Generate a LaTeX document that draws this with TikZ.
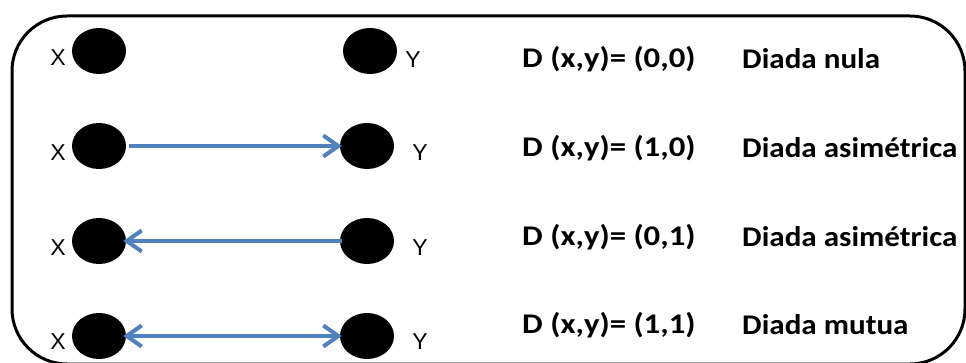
\documentclass[tikz,border=0pt]{standalone}
\usepackage{fontspec}
\setmainfont{Carlito}
\newfontfamily\labfont{Liberation Sans}
\usetikzlibrary{arrows.meta,shapes.geometric}
\definecolor{arrowblue}{HTML}{4F81BD}
\tikzset{
  dot/.style={ellipse, fill=black, minimum width=54pt, minimum height=46pt, inner sep=0pt},
  lab/.style={font=\labfont\fontsize{23}{23}\selectfont, inner sep=0pt},
  formula/.style={font=\bfseries\fontsize{28.5}{28.5}\selectfont, xscale=1.15, anchor=west, inner sep=0pt},
  kind/.style={font=\bfseries\fontsize{28.5}{28.5}\selectfont, xscale=1.09, anchor=west, inner sep=0pt},
  barb/.tip={Straight Barb[length=15pt,width=21pt,line width=4pt]},
  rel/.style={draw=arrowblue, line width=4pt, -barb},
}
\begin{document}
\begin{tikzpicture}[x=1pt,y=-1pt]
\useasboundingbox (0,0) rectangle (966,363);
% frame
\begin{scope}
\clip (0,0) rectangle (966,363);
\draw[line width=3pt, rounded corners=55pt] (12,16) rectangle (965,364);
\end{scope}
% nodes
\node[dot] (x1) at (99,51) {};
\node[dot] (y1) at (370,51) {};
\node[dot] (x2) at (99,146) {};
\node[dot] (y2) at (367,146) {};
\node[dot] (x3) at (99,241) {};
\node[dot] (y3) at (367,241) {};
\node[dot] (x4) at (99,336) {};
\node[dot] (y4) at (367,336) {};
% labels
\node[lab] (lx1) at (58,58) {X};
\node[lab] (ly1) at (413,60) {Y};
\node[lab] (lx2) at (58,153) {X};
\node[lab] (ly2) at (420,153) {Y};
\node[lab] (lx3) at (58,248) {X};
\node[lab] (ly3) at (420,248) {Y};
\node[lab] (lx4) at (58,342) {X};
\node[lab] (ly4) at (420,342) {Y};
% arrows
\draw[rel, shorten <=3pt, shorten >=-2pt] (x2.east) -- (y2.west);
\draw[rel, shorten <=-2pt, shorten >=-3pt] (y3.west) -- (x3.east);
\draw[rel, barb-barb, shorten <=-3pt, shorten >=-2pt] (x4.east) -- (y4.west);
% texts
\node[formula] (d1) at (522,59) {D (x,y)= (0,0)};
\node[kind] (n1) at (742,59) {Diada nula};
\node[formula] (d2) at (522,148) {D (x,y)= (1,0)};
\node[kind] (n2) at (742,148) {Diada asimétrica};
\node[formula] (d3) at (522,237) {D (x,y)= (0,1)};
\node[kind] (n3) at (742,237) {Diada asimétrica};
\node[formula] (d4) at (522,325) {D (x,y)= (1,1)};
\node[kind] (n4) at (742,325) {Diada mutua};
\end{tikzpicture}
\end{document}
